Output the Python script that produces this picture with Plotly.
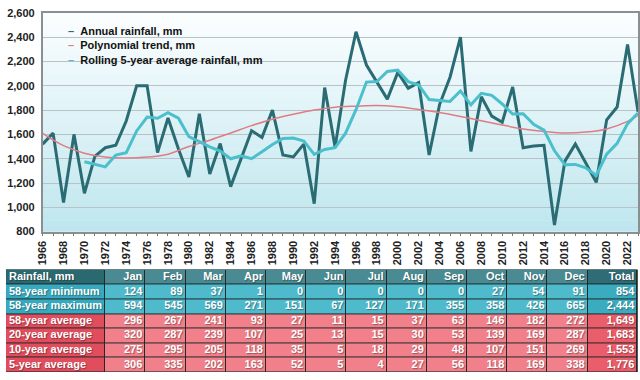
import plotly.graph_objects as go

years = list(range(1966, 2024))
annual = [1520, 1610, 1040, 1600, 1115, 1420, 1490, 1510, 1710, 2000,
          2000, 1450, 1735, 1480, 1250, 1770, 1275, 1525, 1170, 1405,
          1630, 1575, 1800, 1430, 1415, 1520, 1030, 1985, 1495, 2045,
          2444, 2170, 2030, 1890, 2110, 1980, 2025, 1430, 1845, 2070,
          2400, 1460, 1910, 1750, 1700, 1990, 1490, 1505, 1510, 854,
          1380, 1520, 1365, 1205, 1720, 1825, 2340, 1785]
roll_years = list(range(1970, 2024))
rolling = [1375, 1355, 1333, 1430, 1450, 1628, 1743, 1733, 1779, 1733,
           1581, 1540, 1497, 1462, 1399, 1424, 1400, 1457, 1517, 1566,
           1570, 1546, 1435, 1476, 1491, 1610, 1803, 2030, 2035, 2117,
           2128, 2034, 2006, 1886, 1878, 1871, 1957, 1843, 1938, 1921,
           1850, 1767, 1770, 1682, 1635, 1465, 1350, 1353, 1325, 1262,
           1437, 1526, 1688, 1776]
trend_years = [1966, 1968, 1970, 1972, 1974, 1976, 1978, 1980, 1982, 1984,
               1986, 1988, 1990, 1992, 1994, 1996, 1998, 2000, 2002, 2004,
               2006, 2008, 2010, 2012, 2014, 2016, 2018, 2020, 2022, 2023]
trend = [1608, 1507, 1445, 1413, 1405, 1413, 1437, 1500, 1552, 1611,
         1672, 1725, 1765, 1800, 1824, 1832, 1837, 1827, 1805, 1779,
         1747, 1712, 1677, 1645, 1624, 1611, 1619, 1645, 1707, 1757]

series_names = ["Annual rainfall, mm", "Polynomial trend, mm",
                "Rolling 5-year average rainfall, mm"]
series_colors = ["#2a6c73", "#e07c84", "#4bbfcc"]

table_header = ["Rainfall, mm", "Jan", "Feb", "Mar", "Apr", "May", "Jun",
                "Jul", "Aug", "Sep", "Oct", "Nov", "Dec", "Total"]
row_labels = ["58-year minimum", "58-year maximum", "58-year average",
              "20-year average", "10-year average", "5-year average"]
row_min = [124, 89, 37, 1, 0, 0, 0, 0, 0, 27, 54, 91, 854]
row_max = [594, 545, 569, 271, 151, 67, 127, 171, 355, 358, 426, 665, 2444]
row_avg58 = [296, 267, 241, 93, 27, 11, 15, 37, 63, 146, 182, 272, 1649]
row_avg20 = [320, 287, 239, 107, 25, 13, 15, 30, 53, 139, 169, 287, 1683]
row_avg10 = [275, 295, 205, 118, 35, 5, 18, 29, 48, 107, 151, 269, 1553]
row_avg5 = [306, 335, 202, 163, 52, 5, 4, 27, 56, 118, 169, 338, 1776]
rows = [row_min, row_max, row_avg58, row_avg20, row_avg10, row_avg5]

FONT = "Arial, Liberation Sans, sans-serif"

# ---- table geometry (styling) ----
col_widths = [100] + [40.6] * 12 + [50]
col_edges = [0]
for w in col_widths:
    col_edges.append(col_edges[-1] + w)
row_heights = [16] + [15] * 6
row_edges = [0]
for h in row_heights:
    row_edges.append(row_edges[-1] + h)
cell_colors = ["#2b6971", "#4a8b93", "#2f6c75",   # header: label, month, total
               "#38aabf", "#4fbacb", "#3babbf",   # min / max rows
               "#e24d5d", "#f2808a", "#ea5d6a"]   # average rows

fig = go.Figure()
fig.add_trace(go.Scatter(x=years, y=annual, mode="lines", name=series_names[0],
                         line=dict(color=series_colors[0], width=3)))
fig.add_trace(go.Scatter(x=trend_years, y=trend, mode="lines", name=series_names[1],
                         line=dict(color=series_colors[1], width=1.5, shape="spline")))
fig.add_trace(go.Scatter(x=roll_years, y=rolling, mode="lines", name=series_names[2],
                         line=dict(color=series_colors[2], width=3)))

# ---- table as a heatmap of cells + text ----
ncol = len(table_header)
z = []
for r in range(len(rows) + 1):
    base = 0 if r == 0 else (3 if r <= 2 else 6)
    z.append([base + (0 if c == 0 else (2 if c == ncol - 1 else 1)) for c in range(ncol)])
cscale = [[i / (len(cell_colors) - 1), col] for i, col in enumerate(cell_colors)]
fig.add_trace(go.Heatmap(x=col_edges, y=row_edges, z=z, zmin=0, zmax=len(cell_colors) - 1,
                         colorscale=cscale, showscale=False, xgap=1, ygap=1,
                         hoverinfo="skip", xaxis="x2", yaxis="y2"))

table_text = [table_header] + [[lab] + ["{:,}".format(v) for v in r]
                                for lab, r in zip(row_labels, rows)]
lx, ly, lt, rx, ry, rt = [], [], [], [], [], []
for r, line in enumerate(table_text):
    yc = (row_edges[r] + row_edges[r + 1]) / 2
    for c, txt in enumerate(line):
        if c == 0:
            lx.append(col_edges[c] + 3); ly.append(yc); lt.append(txt)
        else:
            rx.append(col_edges[c + 1] - 3); ry.append(yc); rt.append(txt)
tfont = dict(family=FONT, size=11, color="white", weight="bold",
             shadow="1px 1px 1px rgba(0,0,0,0.35)")
fig.add_trace(go.Scatter(x=lx, y=ly, text=lt, mode="text", textposition="middle right",
                         textfont=tfont, hoverinfo="skip", cliponaxis=False,
                         xaxis="x2", yaxis="y2"))
fig.add_trace(go.Scatter(x=rx, y=ry, text=rt, mode="text", textposition="middle left",
                         textfont=tfont, hoverinfo="skip", cliponaxis=False,
                         xaxis="x2", yaxis="y2"))
fig.add_shape(type="rect", xref="x2", yref="y2", x0=col_edges[0], x1=col_edges[-1],
              y0=row_edges[0], y1=row_edges[-1], fillcolor="#1e2a2c",
              line=dict(color="#1e2a2c", width=1), layer="below")

# gradient background of the plot area
N = 40
top = (252, 254, 255)
bot = (190, 230, 238)
for i in range(N):
    t = (i + 0.5) / N
    c = tuple(int(round(bot[k] + (top[k] - bot[k]) * t)) for k in range(3))
    fig.add_shape(type="rect", xref="x domain", yref="y domain",
                  x0=0, x1=1, y0=i / N, y1=(i + 1) / N + 0.002,
                  fillcolor="rgb(%d,%d,%d)" % c, line=dict(width=0), layer="below")

# legend drawn as text lines with coloured dashes
legend_text = "<br>".join("<span style='color:%s'>\u2013</span>\u00a0\u00a0%s" % (col, nm)
                          for nm, col in zip(series_names, series_colors))
fig.add_annotation(xref="paper", yref="paper", x=61 / 640, y=1 - 40.5 / 380,
                   xanchor="left", yanchor="middle", align="left", showarrow=False,
                   text=legend_text,
                   font=dict(family=FONT, size=11, color="#111111", weight="bold"))

fig.update_layout(
    width=640, height=380,
    margin=dict(l=0, r=0, t=0, b=0),
    paper_bgcolor="white",
    plot_bgcolor="rgba(0,0,0,0)",
    showlegend=False,
    font=dict(family=FONT, size=11, color="black"),
    xaxis=dict(domain=[37 / 640, 638 / 640], range=[1966, 2023],
               tickvals=list(range(1966, 2023, 2)), tickangle=-90,
               tickfont=dict(family=FONT, size=11, color="#222222", weight="bold"),
               ticks="outside", ticklen=3, tickcolor="#777777",
               minor=dict(dtick=1, ticks="outside", ticklen=3, tickcolor="#777777"),
               showgrid=False, showline=True, linecolor="#8a8f91", linewidth=1.5,
               mirror=True, zeroline=False),
    yaxis=dict(domain=[(380 - 233) / 380, (380 - 7) / 380], range=[800, 2600],
               dtick=200, tickformat=",d", ticklabelstandoff=4,
               tickfont=dict(family=FONT, size=11, color="#222222", weight="bold"),
               showgrid=True, gridcolor="#b9c2c6", gridwidth=1,
               showline=True, linecolor="#8a8f91", linewidth=1.5, mirror=True,
               zeroline=False, ticks=""),
    xaxis2=dict(domain=[0, 1], range=[0, 640], anchor="y2", visible=False, fixedrange=True),
    yaxis2=dict(domain=[(380 - 378) / 380, (380 - 272) / 380], range=[row_edges[-1], 0],
                anchor="x2", visible=False, fixedrange=True),
)

fig.write_html("out.html", config={"displayModeBar": False},
               post_script="document.body.style.margin='0';"
                           "document.body.style.overflow='hidden';")
